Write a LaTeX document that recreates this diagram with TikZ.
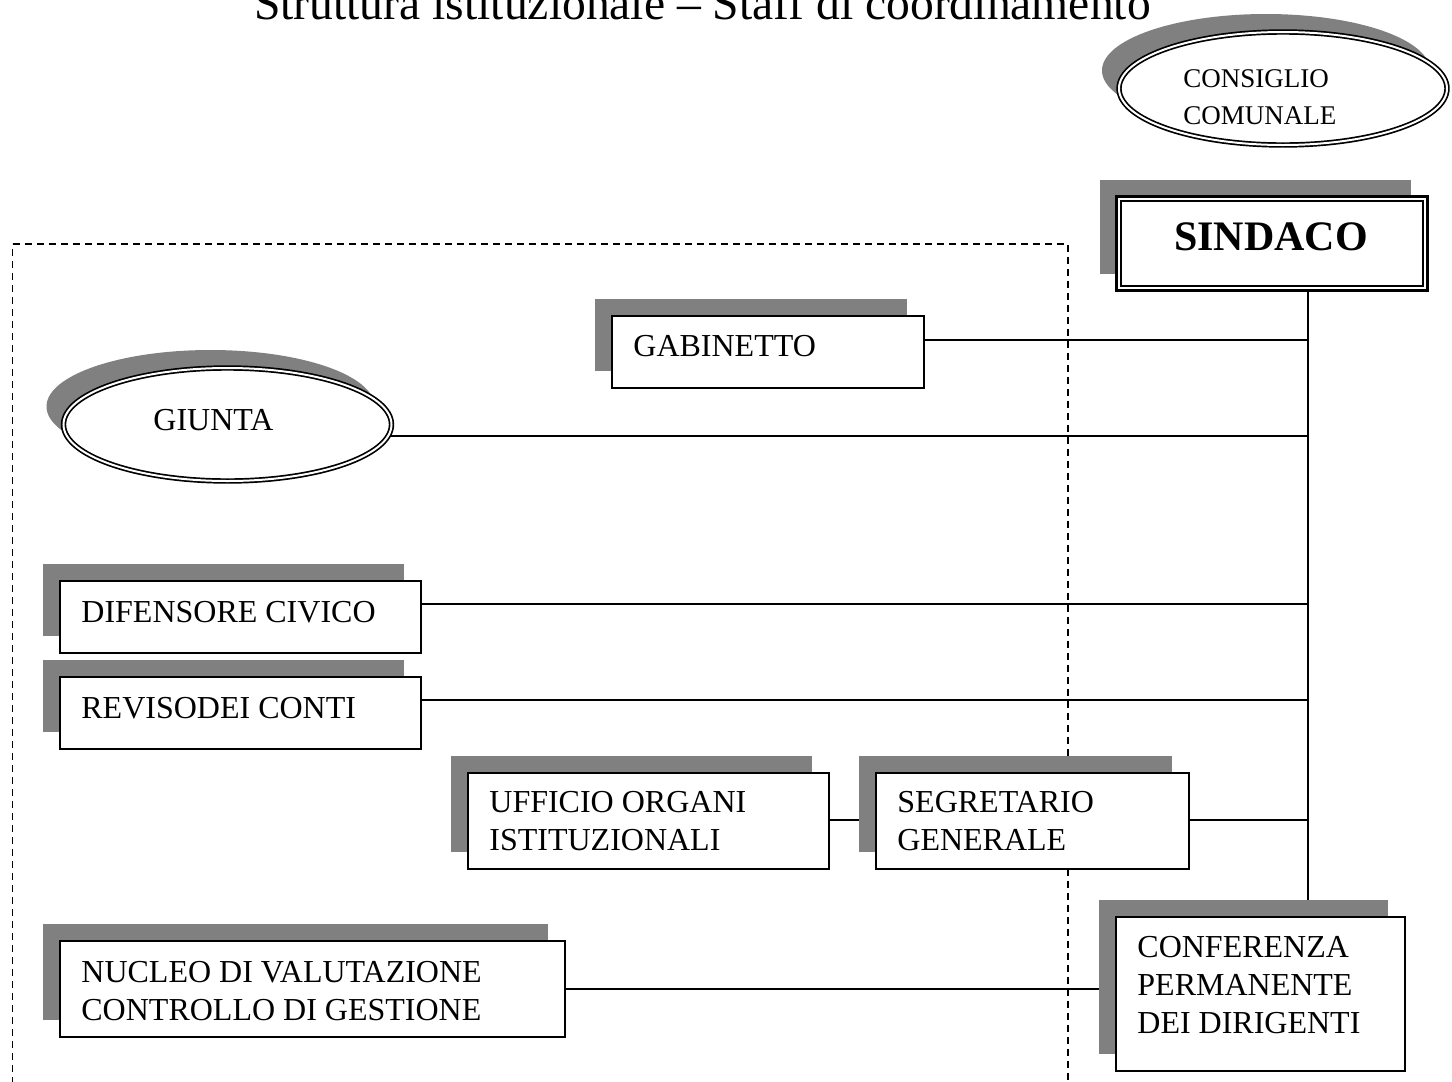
\documentclass[tikz,border=0pt]{standalone}
\usepackage{fontspec}
\setmainfont{Liberation Serif}
\usetikzlibrary{shapes.geometric,shadows,backgrounds}
\definecolor{shgray}{RGB}{128,128,128}
\newcommand{\mylines}[1]{\begin{tabular}[t]{@{}l@{}}#1\end{tabular}}
\begin{document}
\begin{tikzpicture}[x=0.5pt,y=-0.5pt,
  shd/.style={general shadow={draw=none, fill=shgray, shadow xshift=-8.5pt, shadow yshift=8.5pt}},
  boxnode/.style={rectangle, draw, fill=white, line width=0.85pt, inner sep=0pt, outer sep=0pt, shd},
  sinnode/.style={rectangle, draw, fill=white, line width=1.5pt, inner sep=0pt, outer sep=0pt, shd},
  ellnode/.style={ellipse, draw, fill=white, double, line width=0.85pt, double distance=1pt, inner sep=0pt, outer sep=0pt,
     general shadow={draw=none, fill=shgray, shadow xshift=-8.5pt, shadow yshift=9pt}},
  txt/.style={anchor=base west, inner sep=0pt, font=\fontsize{16pt}{19pt}\selectfont},
  conn/.style={line width=0.85pt},
  zone/.style={line width=0.9pt, dash pattern=on 3.5pt off 2.5pt}
]
\useasboundingbox (0,0) rectangle (1452,1082);
\clip (0,0) rectangle (1452,1082);

% title
\node[anchor=base, inner sep=0pt, font=\fontsize{23.8pt}{28pt}\selectfont] (title) at (702.5,19) {Struttura istituzionale – Staff di coordinamento};

% nodes
\node[ellnode, minimum width=164pt, minimum height=56.5pt] (consiglio) at (1283,88.5) {};
\node[sinnode, minimum width=155.5pt, minimum height=47pt] (sindaco) at (1272,243.5) {};
\draw[line width=0.85pt] ([shift={(2.2pt,2.2pt)}]sindaco.south west) rectangle ([shift={(-2.2pt,-2.2pt)}]sindaco.north east);
\node[boxnode, minimum width=156pt, minimum height=36pt] (gab) at (768,352) {};
\node[ellnode, minimum width=164pt, minimum height=56.5pt] (giunta) at (227.5,424.5) {};
\node[boxnode, minimum width=180.5pt, minimum height=36pt] (dif) at (240.5,617) {};
\node[boxnode, minimum width=180.5pt, minimum height=36pt] (rev) at (240.5,713) {};
\node[boxnode, minimum width=180.5pt, minimum height=48pt] (uff) at (648.5,821) {};
\node[boxnode, minimum width=156.5pt, minimum height=48pt] (seg) at (1032.5,821) {};
\node[boxnode, minimum width=252.5pt, minimum height=48pt] (nuc) at (312.5,989) {};
\node[boxnode, minimum width=144.5pt, minimum height=77pt] (conf) at (1260.5,994) {};

% texts
\node[txt, font=\fontsize{13.5pt}{18.5pt}\selectfont] (consT) at (1183,87) {\mylines{CONSIGLIO\\COMUNALE}};
\node[anchor=base, inner sep=0pt, font=\fontsize{21pt}{25pt}\selectfont\bfseries] (sinT) at (1271,250) {SINDACO};
\node[txt] (gabT) at (633,356) {GABINETTO};
\node[txt] (giuT) at (153,430.5) {GIUNTA};
\node[txt] (difT) at (81,622) {DIFENSORE CIVICO};
\node[txt] (revT) at (81,718) {REVISODEI CONTI};
\node[txt] (uffT) at (489,812) {\mylines{UFFICIO ORGANI\\ISTITUZIONALI}};
\node[txt] (segT) at (897,812) {\mylines{SEGRETARIO\\GENERALE}};
\node[txt] (nucT) at (81,982) {\mylines{NUCLEO DI VALUTAZIONE\\CONTROLLO DI GESTIONE}};
\node[txt] (confT) at (1137,957) {\mylines{CONFERENZA\\PERMANENTE\\DEI DIRIGENTI}};

\coordinate (spx) at (1308,0);

\begin{scope}[on background layer]
  \draw[zone] (12.5,244) -- (1068,244) -- (1068,1120) (12.5,1120) -- (12.5,244);
  \draw[conn] (sindaco.center -| spx) -- (conf.center -| spx);
  \draw[conn] ([yshift=6pt]gab.center) -- ([yshift=6pt]gab.center -| spx);
  \draw[conn] ([yshift=-5.75pt]giunta.center) -- ([yshift=-5.75pt]giunta.center -| spx);
  \draw[conn] ([yshift=6.5pt]dif.center) -- ([yshift=6.5pt]dif.center -| spx);
  \draw[conn] ([yshift=6.5pt]rev.center) -- ([yshift=6.5pt]rev.center -| spx);
  \draw[conn] ([yshift=0.5pt]uff.center) -- ([yshift=0.5pt]seg.center);
  \draw[conn] ([yshift=0.5pt]seg.center) -- ([yshift=0.5pt]seg.center -| spx);
  \draw[conn] (nuc.center) -- (conf.center |- nuc.center);
\end{scope}
\end{tikzpicture}
\end{document}
